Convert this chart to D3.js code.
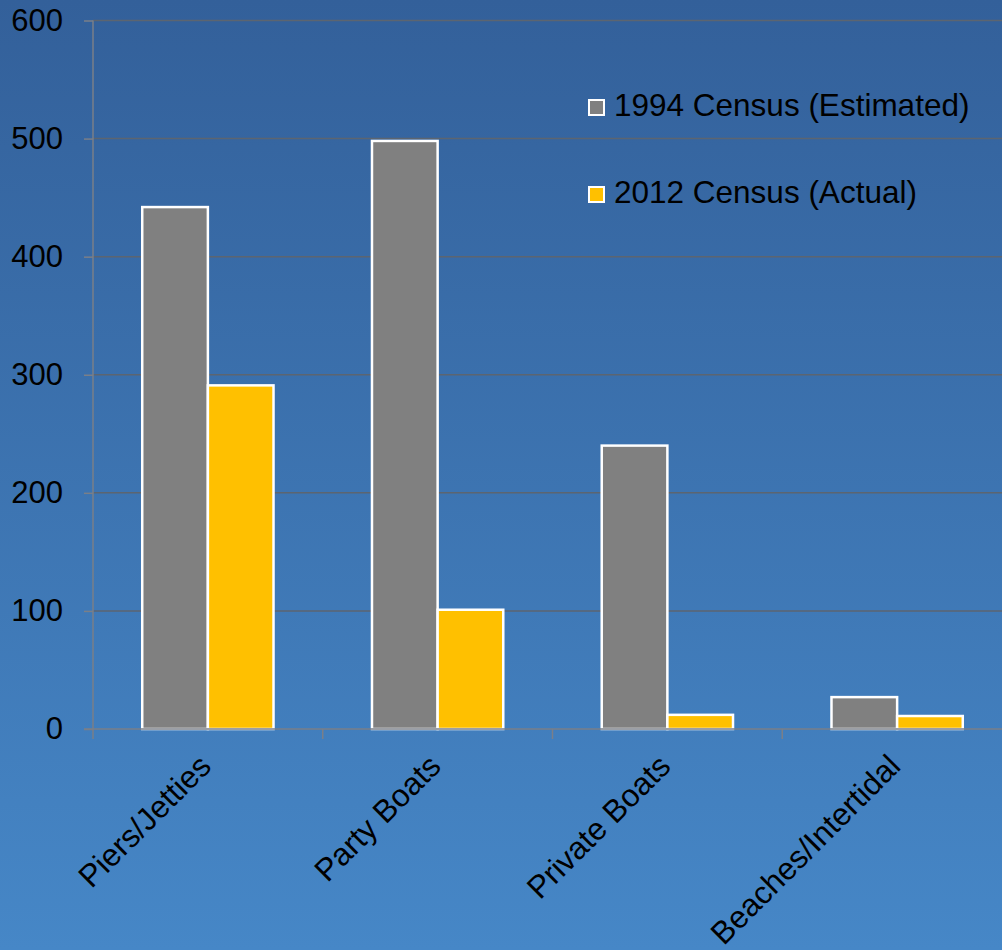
<!DOCTYPE html>
<html>
<head>
<meta charset="utf-8">
<script src="https://cdn.jsdelivr.net/npm/d3@7"></script>
<style>
  body { margin: 0; overflow: hidden; }
  svg { display: block; font-family: Arial, "Liberation Sans", sans-serif; }
</style>
</head>
<body>
<svg width="1002" height="950"></svg>
<script>
const categories = ['Piers/Jetties', 'Party Boats', 'Private Boats', 'Beaches/Intertidal'];
const seriesNames = ['1994 Census (Estimated)', '2012 Census (Actual)'];
const census1994 = [442, 498, 240, 27];
const census2012 = [291, 101, 12, 11];
const yTicks = [0, 100, 200, 300, 400, 500, 600];
const colors = ['#808080', '#ffc000'];

const svg = d3.select('svg');
const width = +svg.attr('width');
const height = +svg.attr('height');

// background gradient
const grad = svg.append('defs').append('linearGradient')
    .attr('id', 'bg')
    .attr('x1', 0).attr('y1', 0)
    .attr('x2', 0).attr('y2', 1);
grad.append('stop').attr('offset', '0%').attr('stop-color', '#33609a');
grad.append('stop').attr('offset', '100%').attr('stop-color', '#4687c7');

svg.append('rect')
    .attr('width', width)
    .attr('height', height)
    .attr('fill', 'url(#bg)');

const plotLeft = 93;
const plotRight = 1012;
const plotTop = 20.5;
const plotBottom = 729;

const x = d3.scaleBand()
    .domain(categories)
    .range([plotLeft, plotRight]);

const xInner = d3.scaleBand()
    .domain(seriesNames)
    .range([0, x.bandwidth()])
    .paddingOuter(0.75);

const y = d3.scaleLinear()
    .domain([0, 600])
    .range([plotBottom, plotTop]);

// gridlines
svg.append('g')
    .selectAll('line')
    .data(yTicks.filter(d => d > 0))
    .join('line')
        .attr('x1', plotLeft)
        .attr('x2', width)
        .attr('y1', d => y(d))
        .attr('y2', d => y(d))
        .attr('stroke', '#5c6570')
        .attr('stroke-width', 1.5);

// y axis
const yAxis = svg.append('g')
    .attr('transform', `translate(${plotLeft},0)`)
    .call(d3.axisLeft(y).tickValues(yTicks).tickSize(9).tickPadding(21));
yAxis.select('.domain').remove();
yAxis.selectAll('.tick line').attr('stroke', '#7a7f88').attr('stroke-width', 1.5);
yAxis.selectAll('.tick text')
    .attr('fill', '#000')
    .style('font-size', '31px')
    .style('font-family', 'Arial, "Liberation Sans", sans-serif');
yAxis.append('line')
    .attr('y1', plotTop)
    .attr('y2', plotBottom + 10)
    .attr('stroke', '#7a7f88')
    .attr('stroke-width', 1.5);

// bars
const rows = categories.map((c, i) => ({ cat: c, vals: [census1994[i], census2012[i]] }));
const groups = svg.append('g')
    .selectAll('g')
    .data(rows)
    .join('g')
        .attr('transform', d => `translate(${x(d.cat)},0)`);

groups.selectAll('rect')
    .data(d => d.vals.map((v, j) => ({ name: seriesNames[j], v, j })))
    .join('rect')
        .attr('x', d => xInner(d.name))
        .attr('width', xInner.bandwidth())
        .attr('y', d => y(d.v))
        .attr('height', d => y(0) - y(d.v))
        .attr('fill', d => colors[d.j])
        .attr('stroke', '#fff')
        .attr('stroke-width', 2.5);

// x axis
svg.append('line')
    .attr('x1', plotLeft - 9)
    .attr('x2', width)
    .attr('y1', plotBottom)
    .attr('y2', plotBottom)
    .attr('stroke', '#7a7f88')
    .attr('stroke-width', 1.5);

svg.append('g')
    .selectAll('line')
    .data(categories.slice(1))
    .join('line')
        .attr('x1', d => x(d))
        .attr('x2', d => x(d))
        .attr('y1', plotBottom)
        .attr('y2', plotBottom + 10)
        .attr('stroke', '#7a7f88')
        .attr('stroke-width', 1.5);

svg.append('g')
    .selectAll('text')
    .data(categories)
    .join('text')
        .attr('transform', d => `translate(${x(d) + x.bandwidth() / 2 + 5},${plotBottom + 39}) rotate(-45)`)
        .attr('text-anchor', 'end')
        .attr('font-size', 31.5)
        .attr('fill', '#000')
        .text(d => d);

// legend
const legend = svg.append('g')
    .attr('transform', 'translate(589,100)');
const item = legend.selectAll('g')
    .data(seriesNames)
    .join('g')
        .attr('transform', (d, i) => `translate(0,${i * 87})`);
item.append('rect')
    .attr('width', 15)
    .attr('height', 15)
    .attr('fill', (d, i) => colors[i])
    .attr('stroke', '#fff')
    .attr('stroke-width', 2);
item.append('text')
    .attr('x', 25)
    .attr('y', 16)
    .attr('font-size', 31.5)
    .attr('fill', '#000')
    .text(d => d);
</script>
</body>
</html>
